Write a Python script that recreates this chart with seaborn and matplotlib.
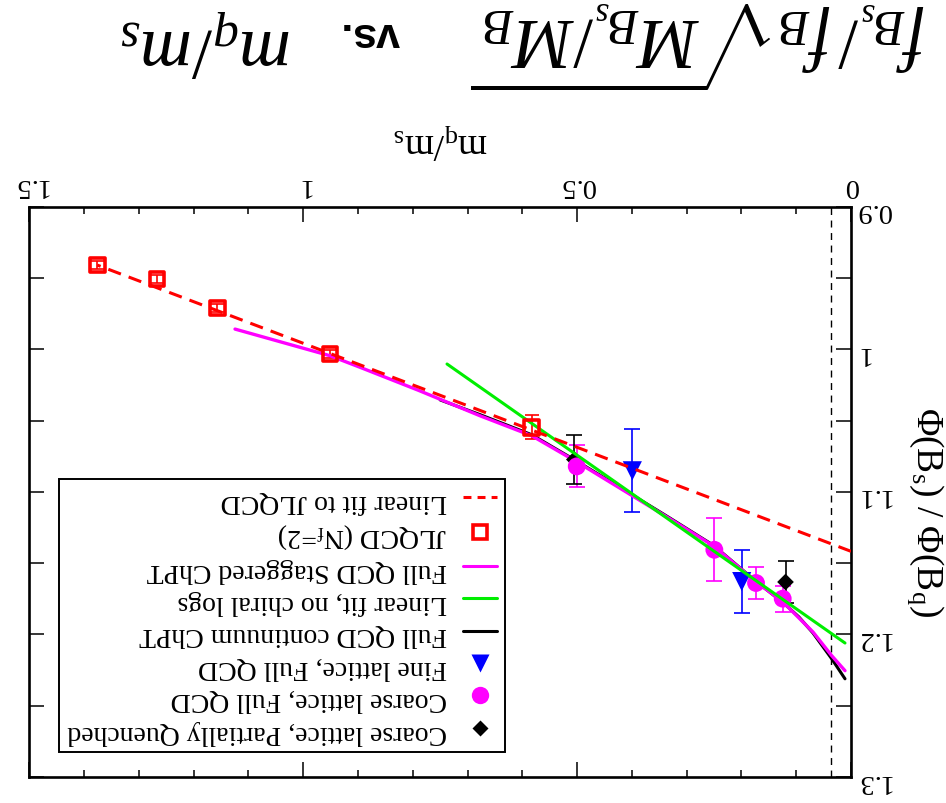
import matplotlib
matplotlib.use("Agg")
import matplotlib.pyplot as plt
from matplotlib.lines import Line2D
from matplotlib.ticker import MultipleLocator, FuncFormatter
import seaborn as sns

# ---------------- data ----------------
jl_x = [1.376, 1.267, 1.157, 0.951, 0.583]
jl_y = [0.9409, 0.9507, 0.9710, 1.0033, 1.0547]
jl_err = [0.003, 0.003, 0.003, 0.003, 0.0085]

jlfit_x = [0.0, 1.376]
jlfit_y = [1.1417, 0.9409]

coarse_full_x = [0.5007, 0.2495, 0.1734, 0.1247]
coarse_full_y = [1.0821, 1.1406, 1.1639, 1.1749]
coarse_full_err = [0.0147, 0.0220, 0.0109, 0.0091]

fine_x = [0.3992, 0.1995]
fine_y = [1.0852, 1.1629]
fine_err = [0.0292, 0.0221]

pq_x = [0.5051, 0.1196]
pq_y = [1.0773, 1.1632]
pq_err = [0.0171, 0.0150]

stag_x = [1.1245, 0.9511, 0.8963, 0.79, 0.6773, 0.5829, 0.5007, 0.4095,
          0.3300, 0.2514, 0.1721, 0.1241, 0.0694, 0.0352, 0.0110]
stag_y = [0.9858, 1.0045, 1.0126, 1.0287, 1.0466, 1.0606, 1.0789, 1.1003,
          1.1190, 1.1378, 1.1634, 1.1773, 1.1983, 1.2149, 1.2254]

cont_x = [0.75, 0.6773, 0.5829, 0.5007, 0.4095, 0.3300, 0.2514, 0.1721,
          0.1241, 0.0950, 0.0694, 0.0352, 0.0110]
cont_y = [1.0355, 1.0458, 1.0599, 1.0784, 1.0997, 1.1185, 1.1374, 1.1632,
          1.1776, 1.1878, 1.1990, 1.2171, 1.2311]

lin_x = [0.7375, 0.0110]
lin_y = [1.0103, 1.2060]

phys_point = 1 / 27.4

legend_labels = ["Linear fit to JLQCD", "JLQCD (N$_\\mathrm{f}$=2)",
                 "Full QCD Staggered ChPT", "Linear fit, no chiral logs",
                 "Full QCD continuum ChPT", "Fine lattice, Full QCD",
                 "Coarse lattice, Full QCD",
                 "Coarse lattice, Partially Quenched"]

x_ticks_major = 0.5
x_ticks_minor = 0.1
y_ticks_major = 0.1
y_ticks_minor = 0.05

# ---------------- style ----------------
sns.set_theme(style="ticks")
plt.rcParams["font.family"] = ["Liberation Serif", "DejaVu Serif"]
plt.rcParams["mathtext.fontset"] = "custom"
plt.rcParams["mathtext.rm"] = "Liberation Serif"
plt.rcParams["mathtext.it"] = "Liberation Serif:italic"
plt.rcParams["mathtext.bf"] = "Liberation Sans:bold"
plt.rcParams["text.color"] = "black"
plt.rcParams["axes.edgecolor"] = "black"
plt.rcParams["xtick.color"] = "black"
plt.rcParams["ytick.color"] = "black"

MAG = "#ff00ff"
GREEN = "#00ee00"
BLUE = "#0000ff"
RED = "#ff0000"

fig = plt.figure(figsize=(9.46, 8.04), dpi=100)
ax = fig.add_axes([0.031, 0.0323, 0.8686, 0.7093])
ax.set_facecolor("white")
fig.patch.set_facecolor("white")

# vertical dashed line at physical point
ax.axvline(phys_point, color="black", lw=1.0, dashes=(5, 4), zorder=1)

# error bars
ax.errorbar(jl_x, jl_y, yerr=jl_err, fmt="none", ecolor=RED, elinewidth=1.2,
            capsize=5, capthick=1.2, zorder=2)
ax.errorbar(coarse_full_x, coarse_full_y, yerr=coarse_full_err, fmt="none",
            ecolor=MAG, elinewidth=1.2, capsize=6, capthick=1.2, zorder=2)
ax.errorbar(fine_x, fine_y, yerr=fine_err, fmt="none", ecolor=BLUE,
            elinewidth=1.2, capsize=6, capthick=1.2, zorder=2)
ax.errorbar(pq_x, pq_y, yerr=pq_err, fmt="none", ecolor="black",
            elinewidth=1.2, capsize=6, capthick=1.2, zorder=2)

# curves
sns.lineplot(x=cont_x, y=cont_y, ax=ax, color="black", lw=2.2, sort=False,
             estimator=None, zorder=3, legend=False)
sns.lineplot(x=stag_x, y=stag_y, ax=ax, color=MAG, lw=2.4, sort=False,
             estimator=None, zorder=4, legend=False)
sns.lineplot(x=lin_x, y=lin_y, ax=ax, color=GREEN, lw=2.2, sort=False,
             estimator=None, zorder=6, legend=False)
sns.lineplot(x=jlfit_x, y=jlfit_y, ax=ax, color=RED, lw=2.2, sort=False,
             estimator=None, zorder=6, legend=False)
ax.lines[-1].set_dashes((4.4, 2.7))

# markers
sns.scatterplot(x=pq_x, y=pq_y, ax=ax, marker="D", s=72, color="black",
                edgecolor="none", zorder=5, legend=False)
sns.scatterplot(x=coarse_full_x, y=coarse_full_y, ax=ax, marker="o", s=165,
                color=MAG, edgecolor="none", zorder=5, legend=False)
sns.scatterplot(x=fine_x, y=fine_y, ax=ax, marker="v", s=190, color=BLUE,
                edgecolor="none", zorder=5, legend=False)
sns.scatterplot(x=jl_x, y=jl_y, ax=ax, marker="s", s=112, facecolor="none",
                edgecolor=RED, linewidth=2.6, zorder=7, legend=False)

# axes: everything turned upside down
ax.set_xlim(1.5, 0.0)
ax.set_ylim(1.3, 0.9)
ax.xaxis.set_major_locator(MultipleLocator(x_ticks_major))
ax.xaxis.set_minor_locator(MultipleLocator(x_ticks_minor))
ax.yaxis.set_major_locator(MultipleLocator(y_ticks_major))
ax.yaxis.set_minor_locator(MultipleLocator(y_ticks_minor))
fmt = FuncFormatter(lambda v, p: f"{v:g}")
ax.xaxis.set_major_formatter(fmt)
ax.yaxis.set_major_formatter(fmt)
ax.tick_params(which="both", direction="in", top=True, bottom=True,
               left=True, right=True, labeltop=True, labelbottom=False,
               labelright=True, labelleft=False, width=1.1, color="black")
ax.tick_params(axis="x", which="major", length=10.5, pad=7, labelsize=20.5,
               labelrotation=180)
ax.tick_params(axis="x", which="minor", length=5)
ax.tick_params(axis="y", which="major", length=10.5, pad=3, labelsize=20.5,
               labelrotation=180)
ax.tick_params(axis="y", which="minor", length=10.5)
for s in ax.spines.values():
    s.set_linewidth(1.9)
    s.set_color("black")
ax.grid(False)

# legend
handles = [
    Line2D([], [], color=RED, lw=2.2, dashes=(2.6, 2.0)),
    Line2D([], [], ls="none", marker="s", markersize=10.6, mfc="white",
           mec=RED, mew=2.6),
    Line2D([], [], color=MAG, lw=2.2),
    Line2D([], [], color=GREEN, lw=2.2),
    Line2D([], [], color="black", lw=2.2),
    Line2D([], [], ls="none", marker="v", markersize=13.5, color=BLUE,
           mec="none"),
    Line2D([], [], ls="none", marker="o", markersize=12.5, color=MAG,
           mec="none"),
    Line2D([], [], ls="none", marker="D", markersize=8.5, color="black",
           mec="none"),
]
leg = ax.legend(handles, legend_labels, loc="lower left",
                bbox_to_anchor=(0.036, 0.044), borderaxespad=0,
                markerfirst=False, frameon=True, fancybox=False,
                framealpha=1, edgecolor="black", fontsize=20,
                handlelength=1.22, handletextpad=0.59, labelspacing=0.25,
                borderpad=0.3)
leg.get_frame().set_linewidth(1.4)
for t in leg.get_texts():
    t.set_rotation(180)

# axis labels & title (rotated 180 degrees like the reference)
fig.text(441 / 946, 1 - 141 / 804, "m$_\\mathrm{q}$/m$_\\mathrm{s}$",
         rotation=180, ha="center", va="center", fontsize=27)
fig.text(925 / 946, 1 - 512 / 804,
         "\u03a6(B$_\\mathrm{s}$) / \u03a6(B$_\\mathrm{q}$)",
         rotation=270, ha="center", va="center", fontsize=27)
fig.text(698 / 946, 1 - 46 / 804,
         r"$f_{B_s}/\,f_B\sqrt{M_{B_s}/M_B}$",
         rotation=180, ha="center", va="center", fontsize=51)
fig.text(370 / 946, 1 - 34 / 804, "vs.",
         family="Liberation Sans", weight="bold",
         rotation=180, ha="center", va="center", fontsize=31)
fig.text(206 / 946, 1 - 42 / 804, r"$m_q/m_s$",
         rotation=180, ha="center", va="center", fontsize=52)

fig.savefig("out.png", dpi=100, facecolor="white")
